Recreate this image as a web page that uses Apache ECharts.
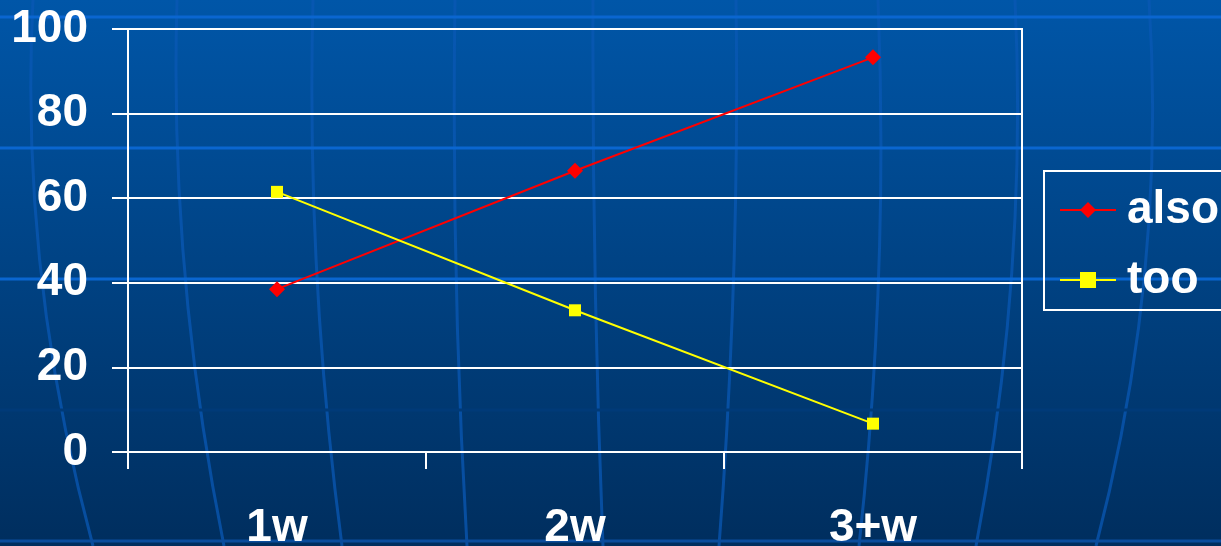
<!DOCTYPE html>
<html>
<head>
<meta charset="utf-8">
<title>also / too</title>
<script src="https://cdn.jsdelivr.net/npm/echarts@6/dist/echarts.min.js"></script>
<style>
  html, body { margin: 0; padding: 0; }
  #chart { width: 1221px; height: 546px; }
</style>
</head>
<body>
<div id="chart"></div>
<script>
// Categories and series values (percent)
const categories = ['1w', '2w', '3+w'];
const alsoValues = [38.5, 66.5, 93.3];
const tooValues = [61.5, 33.5, 6.7];
const seriesNames = ['also', 'too'];

// Decorative slide background: a curved "globe" grid
const hLines = [17, 148, 279, 541];
const vCurves = [
  [33, 0, 19, 273, 93, 546],
  [177, 0, 169, 273, 224, 546],
  [313, 0, 306, 273, 342, 546],
  [455, 0, 451, 273, 467, 546],
  [593, 0, 592, 273, 603, 546],
  [736, 0, 740, 273, 719, 546],
  [878, 0, 889, 273, 859, 546],
  [1015, 0, 1028, 273, 976, 546],
  [1149, 0, 1167, 273, 1096, 546]
];

const bgGraphics = [];
vCurves.forEach(c => {
  bgGraphics.push({
    type: 'bezierCurve', silent: true, z: -10,
    shape: { x1: c[0], y1: c[1], cpx1: c[2], cpy1: c[3], x2: c[4], y2: c[5] },
    style: { stroke: '#0a58b4', lineWidth: 3, fill: null, opacity: 0.75 }
  });
});
hLines.forEach((y, i) => {
  bgGraphics.push({
    type: 'line', silent: true, z: -9,
    shape: { x1: 0, y1: y, x2: 1221, y2: y },
    style: { stroke: i === 3 ? '#0a4c9c' : '#0a66d0', lineWidth: 3 }
  });
});
bgGraphics.push({
  type: 'line', silent: true, z: -9,
  shape: { x1: 0, y1: 410, x2: 1221, y2: 410 },
  style: { stroke: '#003a78', lineWidth: 3 }
});

const chart = echarts.init(document.getElementById('chart'), null, { renderer: 'canvas' });

const labelFont = {
  color: '#ffffff',
  fontFamily: '"Liberation Sans", Arial, sans-serif',
  fontWeight: 'bold',
  fontSize: 46
};

chart.setOption({
  animation: false,
  backgroundColor: {
    type: 'linear', x: 0, y: 0, x2: 0, y2: 1,
    colorStops: [
      { offset: 0, color: '#0056a8' },
      { offset: 1, color: '#002e5e' }
    ]
  },
  graphic: bgGraphics,
  grid: {
    left: 128, right: 199, top: 29, bottom: 94,
    outerBoundsMode: 'none',
    containLabel: false,
    show: true, borderColor: '#ffffff', borderWidth: 2,
    backgroundColor: 'transparent'
  },
  legend: {
    orient: 'vertical',
    left: 1044, top: 171,
    data: seriesNames,
    itemWidth: 56, itemHeight: 20,
    itemGap: 24,
    padding: [16, 40, 7, 15],
    borderColor: '#ffffff', borderWidth: 2,
    textStyle: Object.assign({ padding: [0, 0, 0, 6] }, labelFont),
    selectedMode: false
  },
  xAxis: {
    type: 'category',
    data: categories,
    boundaryGap: true,
    axisLine: { lineStyle: { color: '#ffffff', width: 2 } },
    axisTick: { show: true, length: 17, lineStyle: { color: '#ffffff', width: 2 } },
    axisLabel: Object.assign({ margin: 53 }, labelFont),
    splitLine: { show: false }
  },
  yAxis: {
    type: 'value',
    min: 0, max: 100, interval: 20,
    axisLine: { show: true, lineStyle: { color: '#ffffff', width: 2 } },
    axisTick: { show: true, length: 16, lineStyle: { color: '#ffffff', width: 2 } },
    axisLabel: Object.assign({ margin: 40 }, labelFont),
    splitLine: { show: true, lineStyle: { color: '#ffffff', width: 2 } }
  },
  series: [
    {
      name: seriesNames[0],
      type: 'line',
      data: alsoValues,
      symbol: 'diamond',
      symbolSize: 16,
      itemStyle: { color: '#ff0000' },
      lineStyle: { color: '#ff0000', width: 2 }
    },
    {
      name: seriesNames[1],
      type: 'line',
      data: tooValues,
      symbol: 'rect',
      symbolSize: 12,
      itemStyle: { color: '#ffff00' },
      lineStyle: { color: '#ffff00', width: 2 }
    }
  ]
});
</script>
</body>
</html>
